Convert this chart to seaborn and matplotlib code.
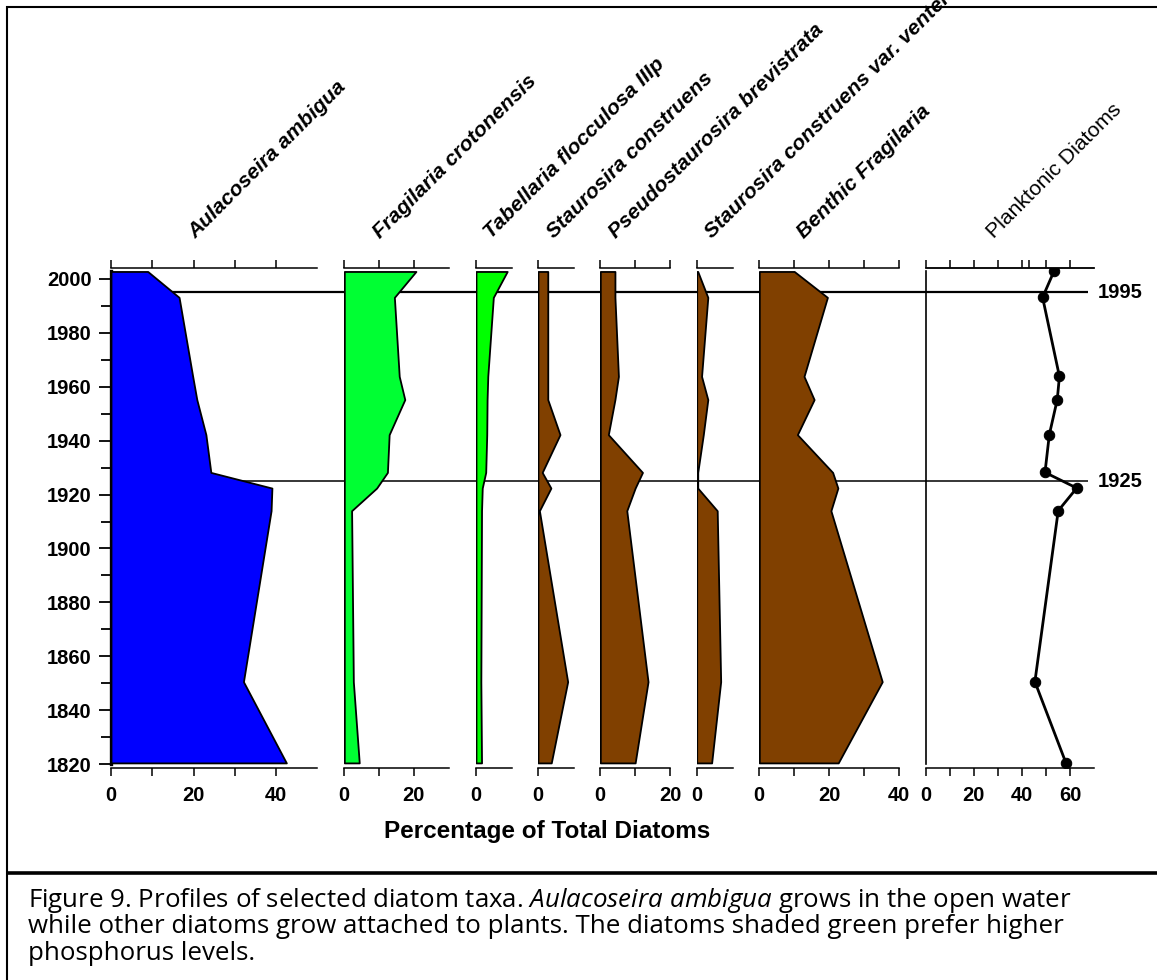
import matplotlib
matplotlib.use("Agg")
import matplotlib.pyplot as plt
import seaborn as sns
import pandas as pd
from matplotlib.lines import Line2D

# ---------------- data ----------------
years = [2002.7, 1993.1, 1963.8, 1955.2, 1942.2, 1928.2, 1922.4, 1914.0, 1850.6, 1820.5]
aulacoseira_ambigua = [8.9, 16.5, 19.8, 20.8, 23.0, 24.2, 39.0, 38.8, 32.1, 42.5]
fragilaria_crotonensis = [20.6, 14.4, 15.8, 17.4, 12.9, 12.4, 9.3, 2.1, 2.6, 4.3]
tabellaria_flocculosa = [9.0, 5.0, 3.4, 3.2, 3.1, 2.8, 1.8, 1.6, 1.4, 1.6]
staurosira_construens = [2.8, 2.8, 2.8, 2.8, 6.3, 1.2, 3.7, 0.4, 8.5, 3.8]
pseudostaurosira_brevistrata = [4.2, 4.2, 5.2, 4.2, 2.3, 12.1, 10.0, 7.6, 13.7, 10.0]
staurosira_venter = [0.3, 3.2, 1.4, 3.2, 1.9, 0.3, 0.3, 5.9, 6.9, 4.3]
benthic_fragilaria = [10.0, 19.5, 12.8, 15.7, 10.9, 21.0, 22.5, 20.5, 35.2, 22.6]
planktonic_diatoms = [53.3, 48.6, 55.6, 54.7, 51.4, 49.6, 62.8, 55.1, 45.4, 58.3]

taxon_names = ["Aulacoseira ambigua", "Fragilaria crotonensis", "Tabellaria flocculosa IIIp",
               "Staurosira construens", "Pseudostaurosira brevistrata",
               "Staurosira construens var. venter", "Benthic Fragilaria", "Planktonic Diatoms"]
year_ticks = list(range(1820, 2001, 20))
marker_years = [1995, 1925]
x_label = "Percentage of Total Diatoms"
caption_lines = [
    "Figure 9. Profiles of selected diatom taxa. $\\it{Aulacoseira\\ ambigua}$ grows in the open water",
    "while other diatoms grow attached to plants. The diatoms shaded green prefer higher",
    "phosphorus levels.",
]

series = [aulacoseira_ambigua, fragilaria_crotonensis, tabellaria_flocculosa,
          staurosira_construens, pseudostaurosira_brevistrata, staurosira_venter,
          benthic_fragilaria, planktonic_diatoms]

# ---------------- layout / style ----------------
sns.set_theme(style="ticks")
plt.rcParams["font.family"] = ["Liberation Sans", "DejaVu Sans"]
plt.rcParams["mathtext.fontset"] = "custom"
plt.rcParams["mathtext.rm"] = "Open Sans"
plt.rcParams["mathtext.it"] = "Open Sans:italic"

W, H = 1157, 980
fig = plt.figure(figsize=(W / 100, H / 100), dpi=100)
fig.patch.set_facecolor("white")

Y_TOP, Y_BOT = 268.5, 768.3
YLIM = (1818.5, 2003.8)


def rect(x0, x1):
    return [x0 / W, 1 - Y_BOT / H, (x1 - x0) / W, (Y_BOT - Y_TOP) / H]


panel_px = [(111, 317.3), (344.3, 449.3), (476, 511.7), (538, 574.3),
            (600.3, 670), (696.7, 732.5), (759.3, 899), (925.7, 1094.3)]
panel_xmax = [50, 30.2, 10.3, 10.4, 20, 10.3, 40, 70.1]
panel_ticks = [[0, 10, 20, 30, 40], [0, 10, 20], [0], [0], [0, 10, 20], [0],
               [0, 10, 20, 30, 40], [0, 10, 20, 30, 40, 50, 60]]
panel_colors = ["#0000ff", "#00ff33", "#00ff00", "#804000", "#804000", "#804000", "#804000", None]
title_px = [196, 380, 491, 553.5, 616, 712, 804, 994]
TITLE_Y = 239

# background axes with the two reference lines
bg = fig.add_axes(rect(111, 1088), zorder=0)
bg.set_xlim(0, 1)
bg.set_ylim(*YLIM)
bg.axis("off")
for yr, lw in zip(marker_years, [1.6, 1.1]):
    bg.axhline(yr, color="black", lw=lw, zorder=0)
    bg.annotate(str(yr), xy=(1, yr), xycoords=("axes fraction", "data"),
                xytext=(7, 0), textcoords="offset points", ha="left", va="center",
                fontsize=14.5, fontweight="bold", color="black")

for i, (vals, (x0, x1)) in enumerate(zip(series, panel_px)):
    ax = fig.add_axes(rect(x0, x1), zorder=2)
    ax.patch.set_visible(False)
    if panel_colors[i] is not None:
        ax.fill_betweenx(years, 0, vals, facecolor=panel_colors[i], edgecolor="black",
                         linewidth=1.3, zorder=3)
    else:
        df = pd.DataFrame({"year": years, "pct": vals})
        sns.lineplot(data=df, x="pct", y="year", orient="y", sort=False, ax=ax,
                     color="black", lw=2.0, marker="o", markersize=7.5,
                     markeredgecolor="black", markerfacecolor="black", zorder=4)
    ax.set_xlim(0, panel_xmax[i])
    ax.set_ylim(*YLIM)
    ax.set_xlabel("")
    ax.set_ylabel("")
    ax.grid(False)
    ticks = panel_ticks[i]
    ax.set_xticks(ticks)
    ax.set_xticklabels([str(t) if j % 2 == 0 else "" for j, t in enumerate(ticks)],
                       fontweight="bold")
    ax.tick_params(axis="x", which="both", top=(i != 7), bottom=True, direction="out",
                   length=5.5, width=1.1, labelsize=14.5, pad=7.5, colors="black")
    ax.spines["right"].set_visible(False)
    for s in ["top", "bottom"]:
        ax.spines[s].set_linewidth(1.1)
        ax.spines[s].set_color("black")
    if i == 0:
        ax.spines["left"].set_visible(True)
        ax.spines["left"].set_linewidth(2.4)
        ax.spines["left"].set_color("black")
        ax.spines["left"].set_bounds(1820, years[0])
        ax.set_yticks(year_ticks)
        ax.set_yticklabels([str(t) for t in year_ticks], fontweight="bold")
        ax.set_yticks(list(range(1830, 2000, 20)), minor=True)
        ax.tick_params(axis="y", which="major", left=True, direction="out", length=9,
                       width=1.3, labelsize=14.5, pad=5, colors="black")
        ax.tick_params(axis="y", which="minor", left=True, direction="out", length=7,
                       width=1.3, colors="black")
    elif i == 7:
        ax.spines["left"].set_visible(True)
        ax.spines["left"].set_linewidth(1.2)
        ax.spines["left"].set_color("black")
        ax.spines["left"].set_bounds(1820, years[0])
        ax.set_yticks([])
        sec = ax.secondary_xaxis("top")
        sec.set_xticks([0, 10, 20, 30, 40, 42.8, 50, 60])
        sec.tick_params(direction="out", length=5.5, width=1.1, labeltop=False, colors="black")
        sec.spines["top"].set_linewidth(1.1)
    else:
        ax.spines["left"].set_visible(False)
        ax.set_yticks([])

    bold = i != 7
    fig.text(title_px[i] / W, 1 - TITLE_Y / H, taxon_names[i], rotation=45,
             rotation_mode="anchor", ha="left", va="baseline", fontsize=15.3,
             fontweight="bold" if bold else "normal",
             fontstyle="italic" if bold else "normal", color="black")

renderer = fig.canvas.get_renderer()

# x axis label
xl = fig.text(547 / W, 1 - 831.7 / H, x_label, ha="center", va="center",
              fontsize=15, fontweight="bold", color="black")
w = xl.get_window_extent(renderer).width
xl.set_fontsize(15 * 328 / w)

# caption
cap_base = [906.5, 933.2, 959.9]
cap = []
for line, yb in zip(caption_lines, cap_base):
    cap.append(fig.text(28 / W, 1 - yb / H, line, ha="left", va="baseline", fontsize=14,
                        family="Open Sans", color="black"))
w1 = cap[0].get_window_extent(renderer).width
w2 = cap[1].get_window_extent(renderer).width
scale = 0.5 * (1057 / w1 + 1029 / w2)
for t in cap:
    t.set_fontsize(14 * scale)

# frame lines
def fline(xs, ys, lw):
    fig.add_artist(Line2D([x / W for x in xs], [1 - y / H for y in ys],
                          transform=fig.transFigure, color="black", lw=lw,
                          solid_capstyle="butt"))

fline([5.7, 1157], [7.3, 7.3], 1.5)
fline([6.7, 6.7], [6.3, 980], 1.5)
fline([5.7, 1157], [872.5, 872.5], 2.6)

fig.savefig("out.png", dpi=100, facecolor="white")
